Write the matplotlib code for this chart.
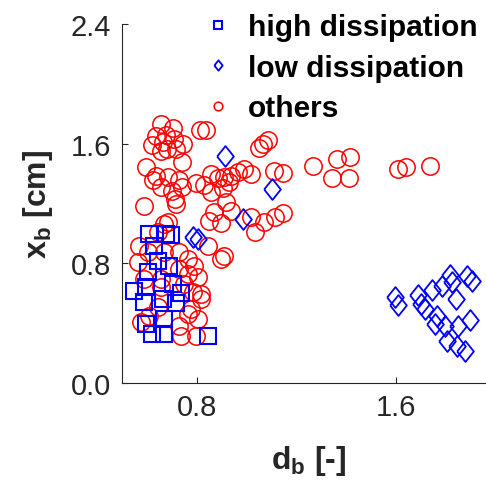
import numpy as np
import matplotlib
matplotlib.use('Agg')
import matplotlib.pyplot as plt

plt.rcParams['font.family'] = 'Liberation Sans'
plt.rcParams['mathtext.fontset'] = 'custom'
plt.rcParams['mathtext.rm'] = 'Liberation Sans'
plt.rcParams['mathtext.bf'] = 'Liberation Sans:bold'

# high dissipation (squares)
high_d = [0.608, 0.676, 0.696, 0.628, 0.644, 0.688, 0.604, 0.548, 0.596, 0.704,
          0.588, 0.664, 0.716, 0.736, 0.596, 0.668, 0.620, 0.668, 0.844]
high_x = [0.996, 0.996, 0.989, 0.916, 0.816, 0.782, 0.742, 0.615, 0.642, 0.662,
          0.541, 0.561, 0.535, 0.602, 0.394, 0.428, 0.328, 0.328, 0.314]

# low dissipation (diamonds)
low_d = [0.912, 1.100, 0.984, 0.784, 0.804,
         1.596, 1.608, 1.688, 1.700, 1.716, 1.744, 1.784, 1.816, 1.824, 1.840,
         1.884, 1.904, 1.764, 1.756, 1.796, 1.848, 1.896, 1.804, 1.844, 1.876]
low_x = [1.517, 1.297, 1.096, 0.976, 0.963,
         0.575, 0.521, 0.588, 0.528, 0.495, 0.622, 0.648, 0.722, 0.675, 0.561,
         0.715, 0.682, 0.448, 0.394, 0.381, 0.381, 0.421, 0.281, 0.247, 0.214]

# others (circles)
oth_d = [0.656, 0.704, 0.812, 0.836, 0.636, 0.676, 0.708, 0.744, 0.620, 0.664,
         0.716, 0.680, 0.656, 0.596, 0.740, 0.636, 0.624, 0.656, 0.684, 0.728,
         0.740, 0.700, 0.712, 0.716, 0.796, 0.828, 0.856, 0.884, 0.908, 0.936,
         0.964, 0.988, 1.016, 0.928, 0.904, 0.856, 0.588, 1.084, 1.064, 1.048,
         1.268, 1.108, 1.144, 0.916, 0.868, 0.848, 0.936, 1.016, 1.068, 1.112,
         1.144, 1.032, 0.684, 1.364, 1.416, 1.344, 1.412, 1.608, 1.640, 1.736,
         0.668, 0.644, 0.896, 0.844, 0.896, 0.568, 0.564, 0.604, 0.668, 0.728,
         0.764, 0.788, 0.728, 0.764, 0.804, 0.748, 0.784, 0.816, 0.816, 0.776,
         0.764, 0.804, 0.608, 0.576, 0.728, 0.736, 0.796, 0.588, 0.656, 0.656,
         0.644, 0.908]
oth_x = [1.731, 1.704, 1.691, 1.691, 1.651, 1.658, 1.631, 1.597, 1.591, 1.611,
         1.564, 1.564, 1.551, 1.444, 1.477, 1.384, 1.357, 1.310, 1.377, 1.357,
         1.310, 1.283, 1.230, 1.196, 1.337, 1.323, 1.397, 1.370, 1.377, 1.384,
         1.410, 1.430, 1.397, 1.343, 1.303, 1.277, 1.183, 1.624, 1.597, 1.571,
         1.450, 1.417, 1.404, 1.210, 1.143, 1.083, 1.150, 1.110, 1.076, 1.110,
         1.136, 1.009, 1.076, 1.497, 1.511, 1.370, 1.370, 1.430, 1.444, 1.450,
         1.063, 1.009, 1.069, 0.916, 0.829, 0.916, 0.809, 0.876, 0.876, 0.876,
         0.829, 0.782, 0.762, 0.729, 0.709, 0.662, 0.608, 0.595, 0.561, 0.495,
         0.461, 0.428, 0.448, 0.408, 0.381, 0.314, 0.314, 0.695, 0.695, 0.642,
         0.508, 0.849]

diamond = [(-0.8, 0), (0, 1), (0.8, 0), (0, -1), (-0.8, 0)]
gray = '#262626'

fig = plt.figure(figsize=(4.86, 4.89), dpi=100)
ax = fig.add_axes([122 / 486, 105 / 489, 374 / 486, 359 / 489])

ax.plot(oth_d, oth_x, 'o', ms=12.5, mfc='none', mec='red', mew=1.1, zorder=2, label='others')
ax.plot(high_d, high_x, 's', ms=11, mfc='none', mec='blue', mew=1.5, zorder=3, label='high dissipation')
ax.plot(low_d, low_x, marker=diamond, ls='none', ms=15, mfc='none', mec='blue', mew=1.3, zorder=3,
        label='low dissipation')

ax.set_xlim(0.5, 2.0)
ax.set_ylim(0, 2.4)
ax.set_xticks([0.8, 1.6])
ax.set_yticks([0, 0.8, 1.6, 2.4])
ax.set_xticklabels(['0.8', '1.6'])
ax.set_yticklabels(['0.0', '0.8', '1.6', '2.4'])

for s in ['top', 'right']:
    ax.spines[s].set_visible(False)
for s in ['left', 'bottom']:
    ax.spines[s].set_color(gray)
    ax.spines[s].set_linewidth(0.8)
ax.tick_params(direction='in', length=4, width=0.8, colors=gray, labelsize=21, labelcolor=gray)
ax.tick_params(axis='y', pad=8)
ax.tick_params(axis='x', pad=7)

ax.set_xlabel(r'$\mathbf{d_b}$ [-]', fontsize=23, fontweight='bold', color=gray, labelpad=16)
ax.set_ylabel(r'$\mathbf{x_b}$ [cm]', fontsize=23, fontweight='bold', color=gray, labelpad=11)

h, l = ax.get_legend_handles_labels()
order = [1, 2, 0]
leg = ax.legend([h[i] for i in order], [l[i] for i in order], loc='upper left',
                bbox_to_anchor=(203 / 486, 1 - 14 / 489), bbox_transform=fig.transFigure,
                frameon=False, borderpad=0, borderaxespad=0, handlelength=1.0, handletextpad=0.5,
                labelspacing=0.42, markerscale=0.5, prop={'weight': 'bold', 'size': 21.5})
for t in leg.get_texts():
    t.set_color('black')

fig.savefig('out.png', dpi=100)
